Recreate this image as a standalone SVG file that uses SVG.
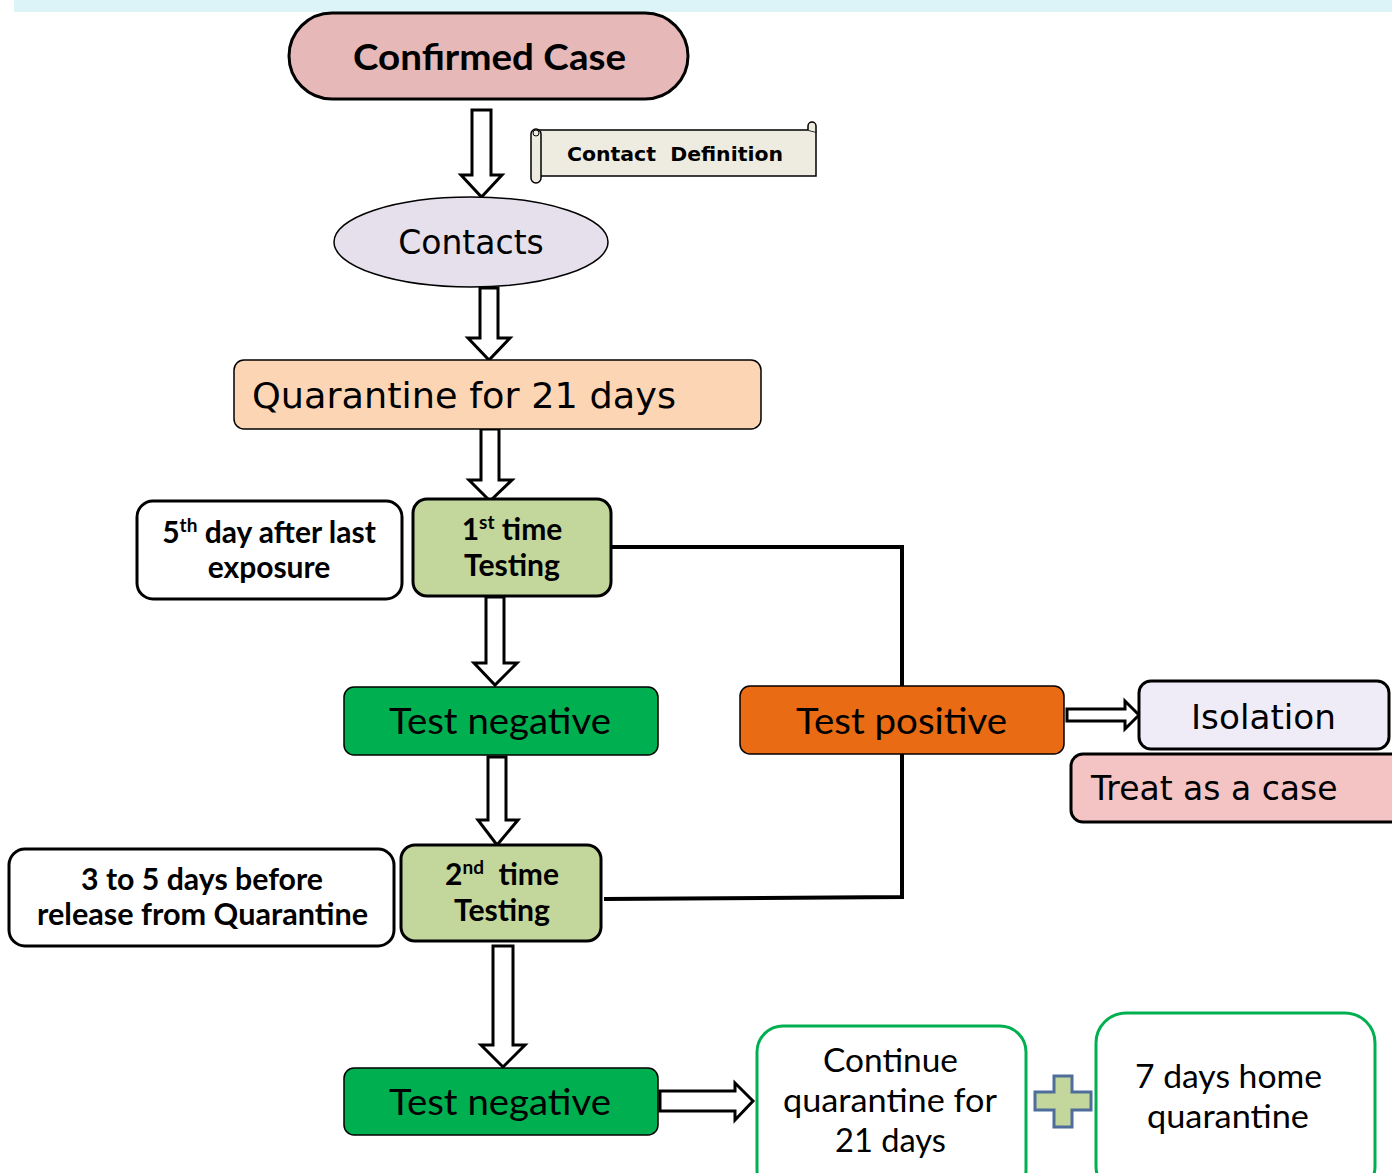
<svg xmlns="http://www.w3.org/2000/svg" width="1392" height="1173" viewBox="0 0 1392 1173">
<defs>
<style>
.cal{font-family:Lato,"Open Sans","Liberation Sans",sans-serif;fill:#000}
.ver{font-family:"DejaVu Sans","Liberation Sans",sans-serif;fill:#000}
.b{font-weight:bold}
.arr{fill:#fff;stroke:#000;stroke-width:3;stroke-linejoin:miter}
.thick{stroke:#000;stroke-width:3}
.thin{stroke:#000;stroke-width:1.5}
.green{fill:#fff;stroke:#00b050;stroke-width:3}
.conn{fill:none;stroke:#000;stroke-width:4}
</style>
</defs>
<rect x="0" y="0" width="1392" height="1173" fill="#fff"/>
<rect x="14" y="0" width="1378" height="12" fill="#dcf3f8"/>

<g id="connectors">
<path class="conn" d="M611 547 L902 547 L902 686"/>
<path class="conn" d="M902 754 L902 897 L604 899"/>
<path class="arr" d="M472 110 L491 110 L491 175 L502 175 L481.5 197 L461 175 L472 175 Z"/>
<path class="arr" d="M480 288 L498 288 L498 338 L510 338 L489 360 L468 338 L480 338 Z"/>
<path class="arr" d="M481 429 L499 429 L499 480 L512 480 L490 501 L469 480 L481 480 Z"/>
<path class="arr" d="M486 597 L504 597 L504 663 L517 663 L495 685 L474 663 L486 663 Z"/>
<path class="arr" d="M488 757 L506 757 L506 820 L518 820 L497 845 L478 820 L488 820 Z"/>
<path class="arr" d="M493 946 L513 946 L513 1045 L525 1045 L503 1067 L481 1045 L493 1045 Z"/>
<path class="arr" d="M1067 709 L1125 709 L1125 701 L1139 715 L1125 729 L1125 721 L1067 721 Z"/>
<path class="arr" d="M660 1091 L735 1091 L735 1083 L753 1101 L735 1120 L735 1111 L660 1111 Z"/>
</g>

<g id="confirmed-case">
<rect x="289" y="13" width="399" height="86" rx="43" fill="#e6b8b7" class="thick"/>
<text x="353" y="70" class="cal b" font-size="37" textLength="273" lengthAdjust="spacingAndGlyphs">Confirmed Case</text>
</g>

<g id="contact-definition">
<path d="M538 130 L808 130 L816 132 L816 176 L538 176 Z" fill="#eeece1" stroke="#000" stroke-width="1.5"/>
<path d="M808 130 L808 126 A4 4 0 0 1 816 126 L816 132" fill="#eeece1" stroke="#000" stroke-width="1.5"/>
<rect x="531" y="129" width="10" height="54" rx="5" fill="#eeece1" stroke="#000" stroke-width="1.5"/>
<circle cx="536" cy="133" r="3" fill="none" stroke="#000" stroke-width="1"/>
<text x="567" y="161" class="ver b" font-size="20" xml:space="preserve" style="white-space:pre" textLength="216" lengthAdjust="spacingAndGlyphs">Contact  Definition</text>
</g>

<g id="contacts">
<ellipse cx="471" cy="242" rx="137" ry="45" fill="#e5e0ec" stroke="#000" stroke-width="1.5"/>
<text x="471" y="254" text-anchor="middle" class="ver" font-size="33">Contacts</text>
</g>

<g id="quarantine">
<rect x="234" y="360" width="527" height="69" rx="10" fill="#fcd5b4" class="thin"/>
<text x="252" y="408" class="ver" font-size="36" textLength="424" lengthAdjust="spacingAndGlyphs">Quarantine for 21 days</text>
</g>

<g id="first-testing">
<rect x="413" y="499" width="198" height="97" rx="14" fill="#c3d69b" class="thick"/>
<text x="512" y="540" text-anchor="middle" class="cal b" font-size="30">1<tspan font-size="19" dy="-11">st</tspan><tspan dy="11"> time</tspan></text>
<text x="464" y="576" class="cal b" font-size="30" textLength="96" lengthAdjust="spacingAndGlyphs">Testing</text>
</g>

<g id="fifth-day">
<rect x="137" y="501" width="265" height="98" rx="16" fill="#fff" class="thick"/>
<text x="269" y="543" text-anchor="middle" class="cal b" font-size="30">5<tspan font-size="19" dy="-11">th</tspan><tspan dy="11"> day after last</tspan></text>
<text x="269" y="578" text-anchor="middle" class="cal b" font-size="30">exposure</text>
</g>

<g id="test-negative-1">
<rect x="344" y="687" width="314" height="68" rx="10" fill="#00b050" class="thin"/>
<text x="389" y="734" class="cal" font-size="37" textLength="222" lengthAdjust="spacingAndGlyphs">Test negative</text>
</g>

<g id="test-positive">
<rect x="740" y="686" width="324" height="68" rx="10" fill="#e96b14" class="thin"/>
<text x="796" y="734" class="cal" font-size="37" textLength="211" lengthAdjust="spacingAndGlyphs">Test positive</text>
</g>

<g id="isolation">
<rect x="1139" y="681" width="250" height="68" rx="12" fill="#efebf7" class="thick"/>
<text x="1191" y="729" class="ver" font-size="34" textLength="145" lengthAdjust="spacingAndGlyphs">Isolation</text>
</g>

<g id="treat-as-case">
<rect x="1071" y="754" width="335" height="68" rx="12" fill="#f4c3c3" class="thick"/>
<text x="1091" y="800" class="ver" font-size="33">Treat as a case</text>
</g>

<g id="second-testing">
<rect x="401" y="845" width="200" height="96" rx="14" fill="#c3d69b" class="thick"/>
<text x="502" y="885" text-anchor="middle" class="cal b" font-size="30" xml:space="preserve" style="white-space:pre">2<tspan font-size="19" dy="-11">nd</tspan><tspan dy="11">  time</tspan></text>
<text x="454" y="921" class="cal b" font-size="30" textLength="96" lengthAdjust="spacingAndGlyphs">Testing</text>
</g>

<g id="three-to-five">
<rect x="9" y="849" width="385" height="97" rx="16" fill="#fff" class="thick"/>
<text x="81" y="890" class="cal b" font-size="30" textLength="242" lengthAdjust="spacingAndGlyphs">3 to 5 days before</text>
<text x="37" y="925" class="cal b" font-size="30" textLength="331" lengthAdjust="spacingAndGlyphs">release from Quarantine</text>
</g>

<g id="test-negative-2">
<rect x="344" y="1068" width="314" height="67" rx="10" fill="#00b050" class="thin"/>
<text x="389" y="1115" class="cal" font-size="37" textLength="222" lengthAdjust="spacingAndGlyphs">Test negative</text>
</g>

<g id="continue-quarantine">
<rect x="757" y="1026" width="269" height="170" rx="26" class="green"/>
<text x="823" y="1072" class="cal" font-size="32" textLength="135" lengthAdjust="spacingAndGlyphs">Continue</text>
<text x="783" y="1112" class="cal" font-size="32" textLength="214" lengthAdjust="spacingAndGlyphs">quarantine for</text>
<text x="835" y="1152" class="cal" font-size="32" textLength="111" lengthAdjust="spacingAndGlyphs">21 days</text>
</g>

<g id="plus">
<path d="M1054 1076 L1072 1076 L1072 1092 L1091 1092 L1091 1110 L1072 1110 L1072 1127 L1054 1127 L1054 1110 L1035 1110 L1035 1092 L1054 1092 Z" fill="#c3d69b" stroke="#4f6d9a" stroke-width="3"/>
</g>

<g id="home-quarantine">
<rect x="1096" y="1013" width="279" height="183" rx="30" class="green"/>
<text x="1135" y="1088" class="cal" font-size="32" textLength="187" lengthAdjust="spacingAndGlyphs">7 days home</text>
<text x="1147" y="1128" class="cal" font-size="32" textLength="162" lengthAdjust="spacingAndGlyphs">quarantine</text>
</g>
</svg>
